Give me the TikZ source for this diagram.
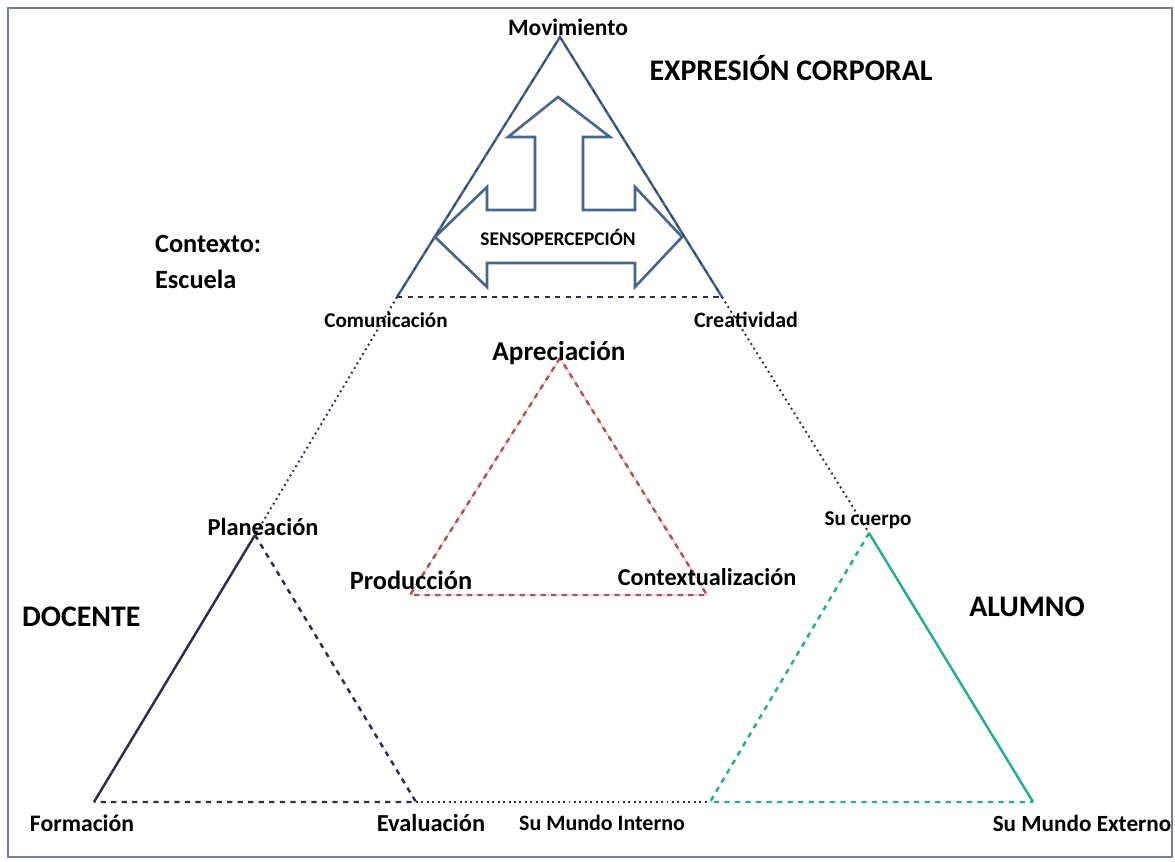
\documentclass[tikz,border=0pt]{standalone}
\usepackage{fontspec}
\setmainfont{Carlito}
\usetikzlibrary{positioning}
\definecolor{framegray}{RGB}{118,126,150}
\definecolor{topblue}{RGB}{72,102,140}
\definecolor{docnavy}{RGB}{45,45,78}
\definecolor{artred}{RGB}{165,85,92}
\definecolor{artpink}{RGB}{235,150,160}
\definecolor{alumteal}{RGB}{38,172,142}

\begin{document}
\begin{tikzpicture}[x=0.02cm,y=-0.02cm,
  lbl/.style={font=\fontsize{#1}{#1}\selectfont\bfseries,inner sep=1pt},
  lbl/.default=13,
  biglbl/.style={font=\fontsize{17}{20}\selectfont\bfseries,inner sep=1pt},
  dotline/.style={docnavy,dotted,line width=1.1pt},
  side/.style={line width=1.4pt}]

\useasboundingbox (0,0) rectangle (1175,861);
\draw[framegray,line width=1.5pt] (8,8) rectangle (1172,857);

% vertices
\coordinate (mov) at (560,37);
\coordinate (com) at (397,297);
\coordinate (cre) at (722,297);
\coordinate (pla) at (255,535);
\coordinate (suc) at (869,533);
\coordinate (for) at (94,802);
\coordinate (eva) at (416,802);
\coordinate (smi) at (710,802);
\coordinate (sme) at (1033,802);
\coordinate (apr) at (560,358);
\coordinate (pro) at (410,595);
\coordinate (ctx) at (707,595);

% === Top triangle: expresion corporal ===
\draw[topblue,side] (com) -- (mov) -- (cre);
\draw[docnavy,dashed] (com) -- (mov) -- (cre);
\draw[docnavy,dashed,side] (com) -- (cre);

% block arrow
\draw[topblue,line width=1.5pt,line join=miter]
  (558,97) -- (610,137) -- (583,137) -- (583,210) -- (635,210) -- (635,187)
  -- (682,237) -- (635,287) -- (635,263) -- (487,263) -- (487,287)
  -- (435,237) -- (487,187) -- (487,210) -- (535,210) -- (535,137)
  -- (508,137) -- cycle;
\node[lbl=11] (senso) at (558,237) {SENSOPERCEPCIÓN};

% === Outer triangle (dotted) ===
\draw[dotline] (com) -- (pla);
\draw[dotline] (cre) -- (suc);
\draw[dotline] (eva) -- (smi);

% === Docente ===
\draw[docnavy,side] (for) -- (pla);
\draw[docnavy,side,dashed] (pla) -- (eva) -- (for);

% === Center triangle ===
\draw[artpink] (apr) -- (pro) -- (ctx) -- cycle;
\draw[artred,side,dashed] (apr) -- (pro) -- (ctx) -- cycle;

% === Alumno ===
\draw[alumteal,side,dashed] (suc) -- (smi) -- (sme);
\draw[alumteal,side] (suc) -- (sme);

% labels
\node[lbl=13.4] (movlbl) at (568,27) {Movimiento};
\node[biglbl] (exprlbl) at (791,68) {EXPRESIÓN CORPORAL};
\node[lbl=15,align=left,anchor=west,font=\fontsize{15}{20}\selectfont\bfseries] (ctxtlbl) at (153,262) {Contexto:\\Escuela};
\node[lbl=12] (comlbl) at (386,320) {Comunicación};
\node[lbl=12.5] (crelbl) at (746,320) {Creatividad};
\node[lbl=15.5] (aprlbl) at (559,353) {Apreciación};
\node[lbl=13.9] (plalbl) at (263,527) {Planeación};
\node[lbl=15] (prolbl) at (411,580) {Producción};
\node[lbl=13.8] (ctxlbl) at (707,577) {Contextualización};
\node[lbl=12] (suclbl) at (868,520) {Su cuerpo};
\node[biglbl,anchor=west] (doclbl) at (20,617) {DOCENTE};
\node[biglbl] (alulbl) at (1027,607) {ALUMNO};
\node[lbl=13.5] (forlbl) at (82,823) {Formación};
\node[lbl=13.9] (evalbl) at (431,823) {Evaluación};
\node[lbl=12.5] (smilbl) at (602,823) {Su Mundo Interno};
\node[lbl=13.2] (smelbl) at (1082,823) {Su Mundo Externo};

\end{tikzpicture}
\end{document}
